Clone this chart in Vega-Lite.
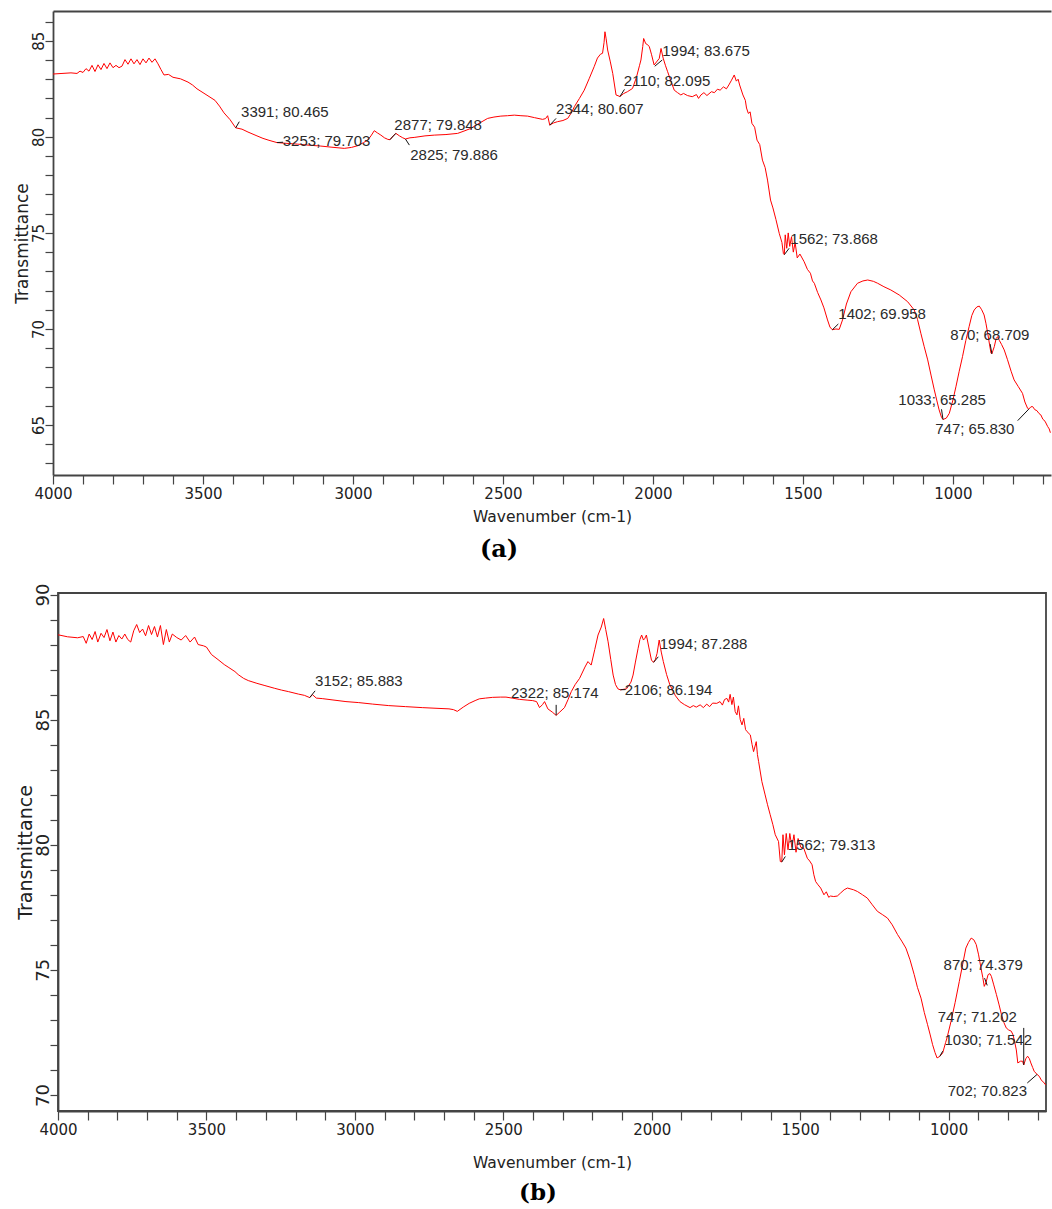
{
"$schema": "https://vega.github.io/schema/vega-lite/v6.json",
"padding": {"left": 13, "top": 11, "right": 0, "bottom": 0},
"background": "white",
"config": {"view": {"stroke": null}, "axis": {"grid": false}},
"spacing": 118,
"bounds": "flush",
"center": true,
"datasets": {
"specA": [
{"wn":4000,"t":83.27},{"wn":3970,"t":83.3},{"wn":3940,"t":83.33},{"wn":3920,"t":83.3},{"wn":3910,"t":83.42},{"wn":3900,"t":83.35},{"wn":3890,"t":83.55},{"wn":3880,"t":83.42},{"wn":3870,"t":83.72},{"wn":3860,"t":83.4},{"wn":3850,"t":83.75},{"wn":3840,"t":83.5},{"wn":3830,"t":83.82},{"wn":3820,"t":83.55},{"wn":3810,"t":83.85},{"wn":3800,"t":83.6},{"wn":3790,"t":83.72},{"wn":3780,"t":83.6},{"wn":3770,"t":83.68},{"wn":3760,"t":84.02},{"wn":3750,"t":83.78},{"wn":3740,"t":84.06},{"wn":3730,"t":83.8},{"wn":3720,"t":84.02},{"wn":3710,"t":83.76},{"wn":3700,"t":84.06},{"wn":3690,"t":83.85},{"wn":3680,"t":84.1},{"wn":3670,"t":83.88},{"wn":3660,"t":84.06},{"wn":3650,"t":83.8},{"wn":3640,"t":83.5},{"wn":3630,"t":83.22},{"wn":3615,"t":83.25},{"wn":3600,"t":83.1},{"wn":3575,"t":83.02},{"wn":3550,"t":82.85},{"wn":3535,"t":82.7},{"wn":3520,"t":82.5},{"wn":3490,"t":82.2},{"wn":3460,"t":81.9},{"wn":3445,"t":81.6},{"wn":3430,"t":81.25},{"wn":3410,"t":80.9},{"wn":3391,"t":80.47},{"wn":3370,"t":80.4},{"wn":3350,"t":80.25},{"wn":3320,"t":80.05},{"wn":3300,"t":79.92},{"wn":3280,"t":79.82},{"wn":3253,"t":79.7},{"wn":3220,"t":79.66},{"wn":3184,"t":79.62},{"wn":3150,"t":79.57},{"wn":3107,"t":79.52},{"wn":3070,"t":79.46},{"wn":3029,"t":79.4},{"wn":3005,"t":79.45},{"wn":2984,"t":79.54},{"wn":2965,"t":79.7},{"wn":2951,"t":79.83},{"wn":2940,"t":80.05},{"wn":2929,"t":80.32},{"wn":2918,"t":80.2},{"wn":2907,"t":80.09},{"wn":2895,"t":79.95},{"wn":2884,"t":79.87},{"wn":2877,"t":79.85},{"wn":2866,"t":80.05},{"wn":2857,"t":80.18},{"wn":2845,"t":80.05},{"wn":2834,"t":79.95},{"wn":2825,"t":79.89},{"wn":2810,"t":79.95},{"wn":2796,"t":79.97},{"wn":2760,"t":80.05},{"wn":2729,"t":80.09},{"wn":2690,"t":80.12},{"wn":2651,"t":80.18},{"wn":2630,"t":80.3},{"wn":2607,"t":80.44},{"wn":2580,"t":80.7},{"wn":2551,"t":80.96},{"wn":2530,"t":81.03},{"wn":2507,"t":81.08},{"wn":2485,"t":81.1},{"wn":2462,"t":81.13},{"wn":2440,"t":81.1},{"wn":2418,"t":81.08},{"wn":2395,"t":81.0},{"wn":2368,"t":80.91},{"wn":2358,"t":80.95},{"wn":2351,"t":81.1},{"wn":2344,"t":80.61},{"wn":2332,"t":80.72},{"wn":2318,"t":80.79},{"wn":2300,"t":80.85},{"wn":2284,"t":80.96},{"wn":2270,"t":81.3},{"wn":2262,"t":81.57},{"wn":2245,"t":82.0},{"wn":2229,"t":82.43},{"wn":2212,"t":83.05},{"wn":2196,"t":83.65},{"wn":2185,"t":84.1},{"wn":2175,"t":84.3},{"wn":2168,"t":84.35},{"wn":2163,"t":84.9},{"wn":2160,"t":85.47},{"wn":2156,"t":85.1},{"wn":2151,"t":84.52},{"wn":2142,"t":83.9},{"wn":2134,"t":83.3},{"wn":2123,"t":82.18},{"wn":2110,"t":82.1},{"wn":2098,"t":82.25},{"wn":2085,"t":82.35},{"wn":2068,"t":82.52},{"wn":2055,"t":83.1},{"wn":2045,"t":83.7},{"wn":2040,"t":84.0},{"wn":2034,"t":84.7},{"wn":2031,"t":85.12},{"wn":2024,"t":84.85},{"wn":2018,"t":84.8},{"wn":2012,"t":84.69},{"wn":2005,"t":84.3},{"wn":1996,"t":83.74},{"wn":1988,"t":83.9},{"wn":1979,"t":84.08},{"wn":1973,"t":84.6},{"wn":1966,"t":84.1},{"wn":1958,"t":83.7},{"wn":1951,"t":83.39},{"wn":1940,"t":82.9},{"wn":1929,"t":82.43},{"wn":1918,"t":82.3},{"wn":1907,"t":82.18},{"wn":1898,"t":82.26},{"wn":1885,"t":82.15},{"wn":1869,"t":82.09},{"wn":1855,"t":82.2},{"wn":1848,"t":82.0},{"wn":1840,"t":82.18},{"wn":1830,"t":82.3},{"wn":1820,"t":82.15},{"wn":1805,"t":82.35},{"wn":1795,"t":82.3},{"wn":1785,"t":82.48},{"wn":1776,"t":82.43},{"wn":1765,"t":82.6},{"wn":1755,"t":82.5},{"wn":1747,"t":82.7},{"wn":1738,"t":82.95},{"wn":1729,"t":83.22},{"wn":1722,"t":82.9},{"wn":1716,"t":83.0},{"wn":1711,"t":82.7},{"wn":1700,"t":82.18},{"wn":1692,"t":81.9},{"wn":1688,"t":81.5},{"wn":1682,"t":81.22},{"wn":1676,"t":81.3},{"wn":1670,"t":80.7},{"wn":1661,"t":80.5},{"wn":1653,"t":79.83},{"wn":1644,"t":79.6},{"wn":1635,"t":78.79},{"wn":1626,"t":78.4},{"wn":1618,"t":77.75},{"wn":1608,"t":76.71},{"wn":1600,"t":76.3},{"wn":1590,"t":75.7},{"wn":1579,"t":74.98},{"wn":1570,"t":74.5},{"wn":1565,"t":73.92},{"wn":1562,"t":73.87},{"wn":1559,"t":74.9},{"wn":1554,"t":74.2},{"wn":1549,"t":75.0},{"wn":1544,"t":74.3},{"wn":1538,"t":74.8},{"wn":1532,"t":74.0},{"wn":1526,"t":74.5},{"wn":1519,"t":73.7},{"wn":1510,"t":73.9},{"wn":1496,"t":73.5},{"wn":1485,"t":73.1},{"wn":1475,"t":72.9},{"wn":1468,"t":72.5},{"wn":1462,"t":72.38},{"wn":1451,"t":71.9},{"wn":1440,"t":71.51},{"wn":1430,"t":71.1},{"wn":1418,"t":70.47},{"wn":1410,"t":70.1},{"wn":1402,"t":69.96},{"wn":1390,"t":70.0},{"wn":1379,"t":69.98},{"wn":1368,"t":70.47},{"wn":1355,"t":71.3},{"wn":1340,"t":71.94},{"wn":1318,"t":72.38},{"wn":1300,"t":72.5},{"wn":1284,"t":72.55},{"wn":1265,"t":72.48},{"wn":1251,"t":72.38},{"wn":1230,"t":72.2},{"wn":1207,"t":72.03},{"wn":1179,"t":71.77},{"wn":1151,"t":71.42},{"wn":1129,"t":70.99},{"wn":1118,"t":70.5},{"wn":1107,"t":69.78},{"wn":1096,"t":69.1},{"wn":1084,"t":68.39},{"wn":1073,"t":67.6},{"wn":1062,"t":66.83},{"wn":1054,"t":66.3},{"wn":1046,"t":65.79},{"wn":1038,"t":65.4},{"wn":1033,"t":65.29},{"wn":1022,"t":65.36},{"wn":1012,"t":65.61},{"wn":1000,"t":66.3},{"wn":990,"t":66.99},{"wn":979,"t":67.8},{"wn":968,"t":68.56},{"wn":957,"t":69.4},{"wn":946,"t":70.12},{"wn":937,"t":70.7},{"wn":929,"t":70.99},{"wn":920,"t":71.15},{"wn":912,"t":71.19},{"wn":904,"t":71.0},{"wn":896,"t":70.73},{"wn":890,"t":70.3},{"wn":884,"t":69.78},{"wn":878,"t":69.2},{"wn":873,"t":68.74},{"wn":870,"t":68.71},{"wn":866,"t":68.9},{"wn":862,"t":69.08},{"wn":856,"t":69.5},{"wn":851,"t":69.6},{"wn":845,"t":69.4},{"wn":838,"t":69.2},{"wn":829,"t":68.91},{"wn":818,"t":68.4},{"wn":806,"t":67.8},{"wn":796,"t":67.35},{"wn":782,"t":67.0},{"wn":768,"t":66.65},{"wn":760,"t":66.2},{"wn":751,"t":65.87},{"wn":747,"t":65.83},{"wn":740,"t":65.95},{"wn":734,"t":65.96},{"wn":727,"t":65.8},{"wn":720,"t":65.75},{"wn":713,"t":65.6},{"wn":707,"t":65.53},{"wn":700,"t":65.3},{"wn":693,"t":65.2},{"wn":684,"t":64.92},{"wn":679,"t":64.8},{"wn":675,"t":64.6}
],
"specB": [
{"wn":4000,"t":88.39},{"wn":3968,"t":88.31},{"wn":3934,"t":88.27},{"wn":3915,"t":88.32},{"wn":3905,"t":88.05},{"wn":3895,"t":88.42},{"wn":3885,"t":88.2},{"wn":3875,"t":88.52},{"wn":3866,"t":88.1},{"wn":3855,"t":88.45},{"wn":3845,"t":88.28},{"wn":3835,"t":88.6},{"wn":3825,"t":88.15},{"wn":3815,"t":88.5},{"wn":3805,"t":88.1},{"wn":3795,"t":88.36},{"wn":3785,"t":88.22},{"wn":3775,"t":88.42},{"wn":3765,"t":88.2},{"wn":3755,"t":88.1},{"wn":3745,"t":88.55},{"wn":3735,"t":88.8},{"wn":3725,"t":88.48},{"wn":3715,"t":88.62},{"wn":3705,"t":88.35},{"wn":3695,"t":88.76},{"wn":3685,"t":88.4},{"wn":3675,"t":88.72},{"wn":3665,"t":88.3},{"wn":3655,"t":88.76},{"wn":3645,"t":88.0},{"wn":3635,"t":88.6},{"wn":3625,"t":88.1},{"wn":3615,"t":88.42},{"wn":3600,"t":88.28},{"wn":3585,"t":88.18},{"wn":3570,"t":88.36},{"wn":3555,"t":88.1},{"wn":3540,"t":88.3},{"wn":3528,"t":88.0},{"wn":3510,"t":87.95},{"wn":3500,"t":87.9},{"wn":3483,"t":87.6},{"wn":3461,"t":87.4},{"wn":3440,"t":87.2},{"wn":3427,"t":87.1},{"wn":3404,"t":86.92},{"wn":3393,"t":86.8},{"wn":3375,"t":86.65},{"wn":3359,"t":86.56},{"wn":3330,"t":86.45},{"wn":3303,"t":86.36},{"wn":3270,"t":86.25},{"wn":3247,"t":86.18},{"wn":3224,"t":86.12},{"wn":3190,"t":86.02},{"wn":3170,"t":85.97},{"wn":3152,"t":85.88},{"wn":3143,"t":86.0},{"wn":3130,"t":85.86},{"wn":3110,"t":85.84},{"wn":3077,"t":85.79},{"wn":3030,"t":85.72},{"wn":2987,"t":85.68},{"wn":2940,"t":85.62},{"wn":2886,"t":85.56},{"wn":2830,"t":85.52},{"wn":2773,"t":85.48},{"wn":2720,"t":85.45},{"wn":2683,"t":85.43},{"wn":2668,"t":85.4},{"wn":2655,"t":85.33},{"wn":2635,"t":85.5},{"wn":2615,"t":85.65},{"wn":2595,"t":85.76},{"wn":2581,"t":85.83},{"wn":2560,"t":85.86},{"wn":2536,"t":85.89},{"wn":2510,"t":85.9},{"wn":2491,"t":85.9},{"wn":2470,"t":85.86},{"wn":2446,"t":85.81},{"wn":2420,"t":85.78},{"wn":2401,"t":85.76},{"wn":2388,"t":85.72},{"wn":2378,"t":85.48},{"wn":2368,"t":85.6},{"wn":2361,"t":85.72},{"wn":2350,"t":85.43},{"wn":2335,"t":85.3},{"wn":2322,"t":85.17},{"wn":2310,"t":85.3},{"wn":2294,"t":85.48},{"wn":2282,"t":85.8},{"wn":2271,"t":86.12},{"wn":2258,"t":86.4},{"wn":2243,"t":86.65},{"wn":2225,"t":87.1},{"wn":2215,"t":87.32},{"wn":2204,"t":87.18},{"wn":2192,"t":87.8},{"wn":2181,"t":88.38},{"wn":2170,"t":88.7},{"wn":2162,"t":89.04},{"wn":2155,"t":88.6},{"wn":2147,"t":88.11},{"wn":2138,"t":87.4},{"wn":2130,"t":86.78},{"wn":2122,"t":86.4},{"wn":2114,"t":86.23},{"wn":2106,"t":86.19},{"wn":2085,"t":86.23},{"wn":2070,"t":86.5},{"wn":2063,"t":86.78},{"wn":2055,"t":87.3},{"wn":2046,"t":87.85},{"wn":2040,"t":88.2},{"wn":2034,"t":88.38},{"wn":2028,"t":88.18},{"wn":2023,"t":88.25},{"wn":2018,"t":88.38},{"wn":2010,"t":87.9},{"wn":2001,"t":87.38},{"wn":1994,"t":87.29},{"wn":1988,"t":87.4},{"wn":1982,"t":87.65},{"wn":1975,"t":88.18},{"wn":1968,"t":87.7},{"wn":1961,"t":87.32},{"wn":1950,"t":86.8},{"wn":1939,"t":86.39},{"wn":1920,"t":85.95},{"wn":1905,"t":85.72},{"wn":1890,"t":85.6},{"wn":1871,"t":85.48},{"wn":1860,"t":85.56},{"wn":1850,"t":85.5},{"wn":1837,"t":85.59},{"wn":1826,"t":85.48},{"wn":1815,"t":85.62},{"wn":1805,"t":85.52},{"wn":1795,"t":85.66},{"wn":1781,"t":85.65},{"wn":1770,"t":85.72},{"wn":1762,"t":85.58},{"wn":1755,"t":85.8},{"wn":1747,"t":85.85},{"wn":1741,"t":85.7},{"wn":1736,"t":86.01},{"wn":1730,"t":85.6},{"wn":1725,"t":85.9},{"wn":1719,"t":85.32},{"wn":1713,"t":85.19},{"wn":1708,"t":85.55},{"wn":1702,"t":85.0},{"wn":1696,"t":84.79},{"wn":1690,"t":85.05},{"wn":1684,"t":84.6},{"wn":1679,"t":84.52},{"wn":1668,"t":84.39},{"wn":1662,"t":84.0},{"wn":1657,"t":83.72},{"wn":1648,"t":84.12},{"wn":1644,"t":83.6},{"wn":1640,"t":83.32},{"wn":1629,"t":82.52},{"wn":1618,"t":81.99},{"wn":1610,"t":81.6},{"wn":1601,"t":81.2},{"wn":1592,"t":80.8},{"wn":1584,"t":80.4},{"wn":1573,"t":80.13},{"wn":1567,"t":79.33},{"wn":1562,"t":79.31},{"wn":1558,"t":80.4},{"wn":1553,"t":79.6},{"wn":1547,"t":80.45},{"wn":1541,"t":79.8},{"wn":1535,"t":80.45},{"wn":1528,"t":79.9},{"wn":1521,"t":80.4},{"wn":1514,"t":79.7},{"wn":1507,"t":80.25},{"wn":1498,"t":79.9},{"wn":1488,"t":79.86},{"wn":1476,"t":79.46},{"wn":1468,"t":79.35},{"wn":1460,"t":79.2},{"wn":1454,"t":78.8},{"wn":1448,"t":78.53},{"wn":1440,"t":78.4},{"wn":1431,"t":78.27},{"wn":1420,"t":78.0},{"wn":1412,"t":78.12},{"wn":1404,"t":77.9},{"wn":1398,"t":77.95},{"wn":1387,"t":77.93},{"wn":1375,"t":77.95},{"wn":1364,"t":78.07},{"wn":1352,"t":78.2},{"wn":1341,"t":78.27},{"wn":1320,"t":78.2},{"wn":1307,"t":78.13},{"wn":1290,"t":78.0},{"wn":1274,"t":77.87},{"wn":1257,"t":77.6},{"wn":1240,"t":77.34},{"wn":1222,"t":77.2},{"wn":1206,"t":77.07},{"wn":1190,"t":76.8},{"wn":1172,"t":76.41},{"wn":1158,"t":76.15},{"wn":1144,"t":75.87},{"wn":1130,"t":75.4},{"wn":1116,"t":74.81},{"wn":1105,"t":74.3},{"wn":1093,"t":73.87},{"wn":1082,"t":73.3},{"wn":1071,"t":72.81},{"wn":1062,"t":72.4},{"wn":1054,"t":72.01},{"wn":1046,"t":71.7},{"wn":1039,"t":71.48},{"wn":1030,"t":71.54},{"wn":1020,"t":71.68},{"wn":1010,"t":72.1},{"wn":1005,"t":72.3},{"wn":992,"t":72.94},{"wn":978,"t":73.7},{"wn":964,"t":74.54},{"wn":953,"t":75.2},{"wn":942,"t":75.87},{"wn":933,"t":76.1},{"wn":924,"t":76.27},{"wn":915,"t":76.2},{"wn":907,"t":76.01},{"wn":899,"t":75.6},{"wn":891,"t":75.07},{"wn":885,"t":74.7},{"wn":880,"t":74.34},{"wn":874,"t":74.5},{"wn":867,"t":74.81},{"wn":861,"t":74.85},{"wn":856,"t":74.74},{"wn":848,"t":74.4},{"wn":839,"t":74.01},{"wn":830,"t":73.6},{"wn":822,"t":73.21},{"wn":814,"t":72.9},{"wn":806,"t":72.68},{"wn":798,"t":72.6},{"wn":789,"t":72.55},{"wn":783,"t":72.4},{"wn":778,"t":72.15},{"wn":772,"t":71.8},{"wn":767,"t":71.28},{"wn":758,"t":71.35},{"wn":751,"t":71.35},{"wn":747,"t":71.2},{"wn":740,"t":71.45},{"wn":734,"t":71.55},{"wn":728,"t":71.45},{"wn":723,"t":71.28},{"wn":717,"t":71.1},{"wn":712,"t":70.95},{"wn":702,"t":70.82},{"wn":695,"t":70.75},{"wn":688,"t":70.6},{"wn":678,"t":70.48},{"wn":673,"t":70.4}
],
"annA": [
{"wn":3391,"t":80.465,"mwn":3379,"mt":80.79,"lwn":3373,"lt":81.29,"label":"3391; 80.465"},
{"wn":3253,"t":79.703,"mwn":3233,"mt":79.72,"lwn":3234,"lt":79.77,"label":"3253; 79.703"},
{"wn":2877,"t":79.848,"mwn":2857,"mt":80.18,"lwn":2862,"lt":80.61,"label":"2877; 79.848"},
{"wn":2825,"t":79.886,"mwn":2812,"mt":79.57,"lwn":2809,"lt":79.08,"label":"2825; 79.886"},
{"wn":2344,"t":80.607,"mwn":2323,"mt":80.96,"lwn":2323,"lt":81.46,"label":"2344; 80.607"},
{"wn":2110,"t":82.095,"mwn":2095,"mt":82.47,"lwn":2097,"lt":82.93,"label":"2110; 82.095"},
{"wn":1994,"t":83.675,"mwn":1969,"mt":84.0,"lwn":1969,"lt":84.49,"label":"1994; 83.675"},
{"wn":1562,"t":73.868,"mwn":1546,"mt":74.2,"lwn":1542,"lt":74.7,"label":"1562; 73.868"},
{"wn":1402,"t":69.958,"mwn":1382,"mt":70.26,"lwn":1382,"lt":70.8,"label":"1402; 69.958"},
{"wn":870,"t":68.709,"mwn":876,"mt":69.22,"lwn":1009,"lt":69.7,"label":"870; 68.709"},
{"wn":1033,"t":65.285,"mwn":1038,"mt":65.82,"lwn":1182,"lt":66.31,"label":"1033; 65.285"},
{"wn":747,"t":65.83,"mwn":784,"mt":65.23,"lwn":1059,"lt":64.81,"label":"747; 65.830"}
],
"annB": [
{"wn":3152,"t":85.883,"mwn":3134,"mt":86.15,"lwn":3134,"lt":86.54,"label":"3152; 85.883"},
{"wn":2322,"t":85.174,"mwn":2322,"mt":85.59,"lwn":2474,"lt":86.05,"label":"2322; 85.174"},
{"wn":2106,"t":86.194,"mwn":2088,"mt":86.2,"lwn":2091,"lt":86.17,"label":"2106; 86.194"},
{"wn":1994,"t":87.288,"mwn":1978,"mt":87.51,"lwn":1973,"lt":88.01,"label":"1994; 87.288"},
{"wn":1562,"t":79.313,"mwn":1550,"mt":79.53,"lwn":1542,"lt":79.98,"label":"1562; 79.313"},
{"wn":870,"t":74.379,"mwn":879,"mt":74.67,"lwn":1017,"lt":75.21,"label":"870; 74.379"},
{"wn":747,"t":71.202,"mwn":747,"mt":72.68,"lwn":1037,"lt":73.12,"label":"747; 71.202"},
{"wn":1030,"t":71.542,"mwn":1020,"mt":71.75,"lwn":1014,"lt":72.21,"label":"1030; 71.542"},
{"wn":702,"t":70.823,"mwn":735,"mt":70.48,"lwn":1003,"lt":70.15,"label":"702; 70.823"}
]
},
"vconcat": [
{
"width": 998, "height": 464,
"title": {"text": "(a)", "orient": "bottom", "anchor": "middle", "frame": "group", "dx": -53, "offset": 13, "font": "DejaVu Serif", "fontWeight": "bold", "fontSize": 24, "color": "#000000"},
"resolve": {"axis": {"x": "independent", "y": "independent"}},
"layer": [
{"data": {"name": "specA"},
 "mark": {"type": "line", "color": "#ff0000", "strokeWidth": 1},
 "encoding": {
  "x": {"field": "wn", "type": "quantitative",
   "scale": {"domain": [673, 4000], "reverse": true, "nice": false, "zero": false},
   "axis": {"orient": "bottom", "title": "Wavenumber (cm-1)", "values": [700,800,900,1000,1100,1200,1300,1400,1500,1600,1700,1800,1900,2000,2100,2200,2300,2400,2500,2600,2700,2800,2900,3000,3100,3200,3300,3400,3500,3600,3700,3800,3900,4000],
    "labelExpr": "datum.value % 500 === 0 ? datum.label : ''", "format": "d", "labelFlush": false, "labelOverlap": false,
    "labelFont": "DejaVu Sans", "labelFontSize": 15, "labelColor": "#222222", "labelPadding": 2,
    "titleFont": "DejaVu Sans", "titleFontSize": 15.5, "titleFontWeight": "normal", "titleColor": "#222222", "titlePadding": 8,
    "tickSize": 9, "tickColor": "#444444", "tickWidth": 1.2, "domainColor": "#444444", "domainWidth": 1.8, "grid": false}},
  "y": {"field": "t", "type": "quantitative",
   "scale": {"domain": [62.4, 86.55], "nice": false, "zero": false},
   "axis": {"title": "Transmittance", "values": [63,64,65,66,67,68,69,70,71,72,73,74,75,76,77,78,79,80,81,82,83,84,85,86],
    "labelExpr": "datum.value % 5 === 0 ? datum.label : ''", "labelOverlap": false, "labelFlush": false,
    "labelAngle": -90, "labelAlign": "center", "labelBaseline": "alphabetic",
    "labelFont": "DejaVu Sans", "labelFontSize": 15, "labelColor": "#222222", "labelPadding": 2,
    "titleFont": "DejaVu Sans", "titleFontSize": 17, "titleFontWeight": "normal", "titleColor": "#222222", "titlePadding": 0,
    "tickSize": 8, "tickColor": "#444444", "tickWidth": 1.2, "domainColor": "#444444", "domainWidth": 1.8, "grid": false}}
 }},
{"data": {"name": "annA"},
 "mark": {"type": "rule", "color": "#111111", "strokeWidth": 1},
 "encoding": {
  "x": {"field": "wn", "type": "quantitative", "scale": {"domain": [673, 4000], "reverse": true, "nice": false, "zero": false}, "axis": null},
  "x2": {"field": "mwn"},
  "y": {"field": "t", "type": "quantitative", "scale": {"domain": [62.4, 86.55], "nice": false, "zero": false}, "axis": null},
  "y2": {"field": "mt"}
 }},
{"data": {"name": "annA"},
 "mark": {"type": "text", "align": "left", "baseline": "middle", "font": "Liberation Sans", "fontSize": 15, "color": "#2a2a2a"},
 "encoding": {
  "x": {"field": "lwn", "type": "quantitative", "scale": {"domain": [673, 4000], "reverse": true, "nice": false, "zero": false},
   "axis": {"orient": "top", "labels": false, "ticks": false, "title": null, "domainColor": "#444444", "domainWidth": 2, "grid": false}},
  "y": {"field": "lt", "type": "quantitative", "scale": {"domain": [62.4, 86.55], "nice": false, "zero": false}, "axis": null},
  "text": {"field": "label"}
 }}
]
},
{
"width": 988, "height": 518,
"view": {"stroke": "#444444", "strokeWidth": 1.8},
"title": {"text": "(b)", "orient": "bottom", "anchor": "middle", "frame": "group", "dx": -14, "offset": 11, "font": "DejaVu Serif", "fontWeight": "bold", "fontSize": 23, "color": "#000000"},
"resolve": {"axis": {"x": "independent", "y": "independent"}},
"layer": [
{"data": {"name": "specB"},
 "mark": {"type": "line", "color": "#ff0000", "strokeWidth": 1},
 "encoding": {
  "x": {"field": "wn", "type": "quantitative",
   "scale": {"domain": [672, 4000], "reverse": true, "nice": false, "zero": false},
   "axis": {"orient": "bottom", "title": "Wavenumber (cm-1)", "values": [700,800,900,1000,1100,1200,1300,1400,1500,1600,1700,1800,1900,2000,2100,2200,2300,2400,2500,2600,2700,2800,2900,3000,3100,3200,3300,3400,3500,3600,3700,3800,3900,4000],
    "labelExpr": "datum.value % 500 === 0 ? datum.label : ''", "format": "d", "labelFlush": false, "labelOverlap": false,
    "labelFont": "DejaVu Sans", "labelFontSize": 15, "labelColor": "#222222", "labelPadding": 2,
    "titleFont": "DejaVu Sans", "titleFontSize": 15.5, "titleFontWeight": "normal", "titleColor": "#222222", "titlePadding": 18,
    "tickSize": 9, "tickColor": "#444444", "tickWidth": 1.2, "domainColor": "#444444", "domainWidth": 1.8, "grid": false}},
  "y": {"field": "t", "type": "quantitative",
   "scale": {"domain": [69.36, 90.06], "nice": false, "zero": false},
   "axis": {"title": "Transmittance", "values": [70,71,72,73,74,75,76,77,78,79,80,81,82,83,84,85,86,87,88,89,90],
    "labelExpr": "datum.value % 5 === 0 ? datum.label : ''", "labelOverlap": false, "labelFlush": false,
    "labelAngle": -90, "labelAlign": "center", "labelBaseline": "alphabetic",
    "labelFont": "DejaVu Sans", "labelFontSize": 18, "labelColor": "#222222", "labelPadding": 2,
    "titleFont": "DejaVu Sans", "titleFontSize": 19, "titleFontWeight": "normal", "titleColor": "#222222", "titlePadding": -1,
    "tickSize": 8, "tickColor": "#444444", "tickWidth": 1.2, "domainColor": "#444444", "domainWidth": 1.8, "grid": false}}
 }},
{"data": {"name": "annB"},
 "mark": {"type": "rule", "color": "#111111", "strokeWidth": 1},
 "encoding": {
  "x": {"field": "wn", "type": "quantitative", "scale": {"domain": [672, 4000], "reverse": true, "nice": false, "zero": false}, "axis": null},
  "x2": {"field": "mwn"},
  "y": {"field": "t", "type": "quantitative", "scale": {"domain": [69.36, 90.06], "nice": false, "zero": false}, "axis": null},
  "y2": {"field": "mt"}
 }},
{"data": {"name": "annB"},
 "mark": {"type": "text", "align": "left", "baseline": "middle", "font": "Liberation Sans", "fontSize": 15, "color": "#2a2a2a"},
 "encoding": {
  "x": {"field": "lwn", "type": "quantitative", "scale": {"domain": [672, 4000], "reverse": true, "nice": false, "zero": false}, "axis": null},
  "y": {"field": "lt", "type": "quantitative", "scale": {"domain": [69.36, 90.06], "nice": false, "zero": false}, "axis": null},
  "text": {"field": "label"}
 }}
]
}
]
}
